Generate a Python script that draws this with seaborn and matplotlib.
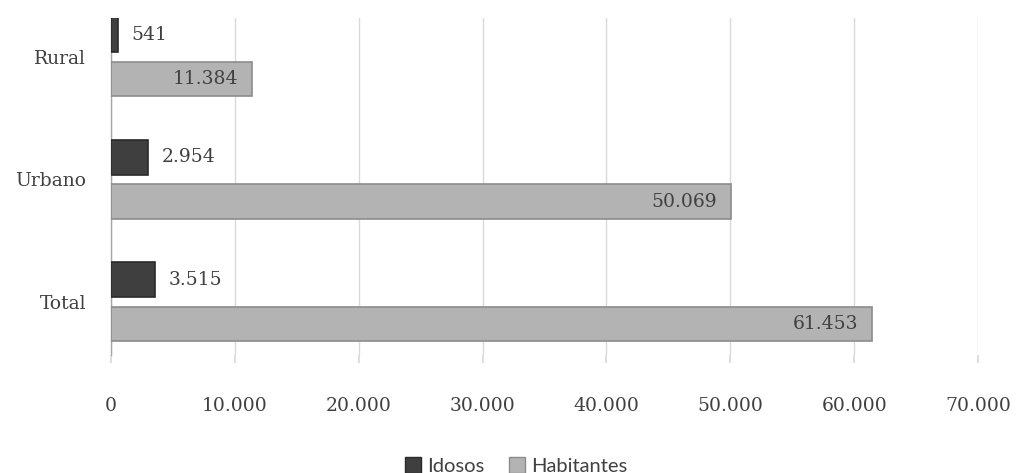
import matplotlib
matplotlib.use("Agg")
import matplotlib.pyplot as plt
import seaborn as sns
import pandas as pd
from matplotlib.patches import Patch

categories = ["Rural", "Urbano", "Total"]
idosos = [541, 2954, 3515]
habitantes = [11384, 50069, 61453]
series_names = ["Idosos", "Habitantes"]
xticks = [0, 10000, 20000, 30000, 40000, 50000, 60000, 70000]

def fmt(v):
    return f"{v:,}".replace(",", ".")

df = pd.DataFrame({
    "cat": categories * 2,
    "serie": [series_names[0]] * 3 + [series_names[1]] * 3,
    "valor": idosos + habitantes,
})

sns.set_theme(style="white")
plt.rcParams["font.family"] = ["DejaVu Serif"]

colors = {"Idosos": "#3f3f3f", "Habitantes": "#b3b3b3"}
edges = {"Idosos": "#2a2a2a", "Habitantes": "#8c8c8c"}

fig = plt.figure(figsize=(10.16, 4.73), dpi=100)
ax = fig.add_axes([111 / 1016, 1 - 355 / 473, (978 - 111) / 1016, 337 / 473])

sns.barplot(data=df, y="cat", x="valor", hue="serie", order=categories,
            hue_order=series_names, palette=colors, orient="h",
            width=0.72, gap=0.21, ax=ax, legend=False, saturation=1)

# bevel-like edges
for i, cont in enumerate(ax.containers):
    name = series_names[i]
    for p in cont:
        p.set_edgecolor(edges[name])
        p.set_linewidth(1.2)
        p.set_zorder(3)

ax.set_xlim(0, 70000)
ax.set_ylim(2.433, -0.318)
ax.set_xticks(xticks)
ax.set_xticklabels([fmt(t) for t in xticks], fontsize=13.5, color="#404040")
ax.set_yticks(range(len(categories)))
ax.set_yticklabels(categories, fontsize=13.5, color="#404040")
ax.set_xlabel("")
ax.set_ylabel("")
ax.xaxis.grid(True, color="#d9d9d9", linewidth=1)
ax.set_axisbelow(True)
ax.tick_params(axis="x", length=6, color="#d9d9d9", pad=24, bottom=True)
ax.tick_params(axis="y", length=0, pad=18)
for s in ["top", "right", "bottom"]:
    ax.spines[s].set_visible(False)
ax.spines["left"].set_color("#a6a6a6")
ax.spines["left"].set_linewidth(1)

# data labels
for i, cont in enumerate(ax.containers):
    vals = idosos if i == 0 else habitantes
    for p, v in zip(cont, vals):
        yc = p.get_y() + p.get_height() / 2
        if i == 0:
            ax.annotate(fmt(v), (v, yc), xytext=(10, 0), textcoords="offset points",
                        ha="left", va="center", fontsize=13.5, color="#404040")
        else:
            ax.annotate(fmt(v), (v, yc), xytext=(-10, 0), textcoords="offset points",
                        ha="right", va="center", fontsize=13.5, color="#404040", zorder=5)

handles = [Patch(facecolor=colors[n], edgecolor=edges[n]) for n in series_names]
fig.legend(handles, series_names, loc="center", bbox_to_anchor=(0.508, 1 - 466 / 473),
           ncol=2, frameon=False, prop={"family": "Lato", "size": 14.5},
           handlelength=0.8, handleheight=0.8, handletextpad=0.3, columnspacing=1.2,
           labelcolor="#404040")

fig.savefig("out.png", dpi=100)
